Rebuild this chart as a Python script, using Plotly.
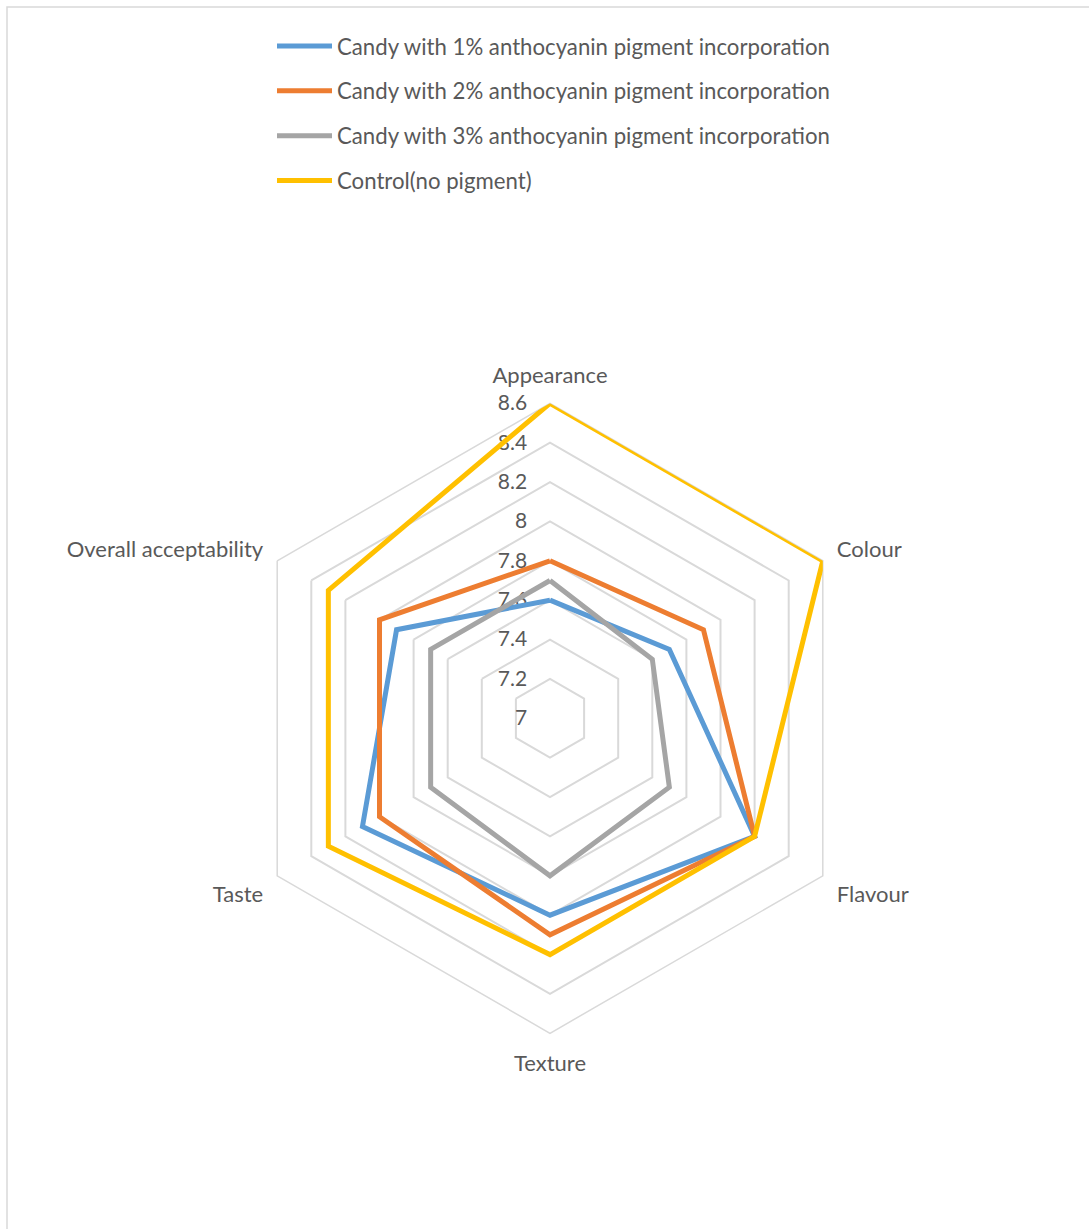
import plotly.graph_objects as go

# Sensory attributes scored on the hedonic scale (spokes of the radar)
criteria = ["Appearance", "Colour", "Flavour", "Texture", "Taste", "Overall acceptability"]

series_names = [
    "Candy with 1% anthocyanin pigment incorporation",
    "Candy with 2% anthocyanin pigment incorporation",
    "Candy with 3% anthocyanin pigment incorporation",
    "Control(no pigment)",
]

# Mean sensory scores per attribute
candy_1pct = [7.6, 7.7, 8.2, 8.0, 8.1, 7.9]
candy_2pct = [7.8, 7.9, 8.2, 8.1, 8.0, 8.0]
candy_3pct = [7.7, 7.6, 7.7, 7.8, 7.7, 7.7]
control = [8.6, 8.6, 8.2, 8.2, 8.3, 8.3]

radial_tickvals = [7.0, 7.2, 7.4, 7.6, 7.8, 8.0, 8.2, 8.4, 8.6]
radial_ticktext = ["7", "7.2", "7.4", "7.6", "7.8", "8", "8.2", "8.4", "8.6"]

series_values = [candy_1pct, candy_2pct, candy_3pct, control]
series_colors = ["#5B9BD5", "#ED7D31", "#A5A5A5", "#FFC000"]

FONT = "Lato"
TEXT_COLOR = "#595959"
GRID_COLOR = "#D9D9D9"

W, H = 1089, 1229

fig = go.Figure()
for i, (name, vals, col) in enumerate(zip(series_names, series_values, series_colors)):
    fig.add_trace(
        go.Scatterpolar(
            r=vals + vals[:1],
            theta=criteria + criteria[:1],
            mode="lines",
            name=name,
            legendgroup=f"g{i}",
            line=dict(color=col, width=5),
        )
    )

# polar area: centre (550, 718), outer ring radius 315 px
cx, cy, rad = 550, 718.3, 315
fig.update_layout(
    width=W,
    height=H,
    margin=dict(l=0, r=0, t=0, b=0),
    paper_bgcolor="white",
    plot_bgcolor="white",
    font=dict(family=FONT, size=22, color=TEXT_COLOR),
    polar=dict(
        domain=dict(
            x=[(cx - rad) / W, (cx + rad) / W],
            y=[1 - (cy + rad) / H, 1 - (cy - rad) / H],
        ),
        gridshape="linear",
        bgcolor="white",
        angularaxis=dict(
            rotation=90,
            direction="clockwise",
            showgrid=False,
            showline=True,
            linecolor=GRID_COLOR,
            linewidth=1.5,
            ticks="outside",
            ticklen=11,
            tickcolor="rgba(0,0,0,0)",
            tickfont=dict(family=FONT, size=22, color=TEXT_COLOR),
            layer="below traces",
        ),
        radialaxis=dict(
            range=[7, 8.6],
            tickvals=radial_tickvals,
            ticktext=radial_ticktext,
            angle=90,
            side="counterclockwise",
            showline=False,
            showgrid=True,
            gridcolor=GRID_COLOR,
            gridwidth=1.5,
            ticks="outside",
            ticklen=15,
            tickcolor="rgba(0,0,0,0)",
            tickangle=90,
            tickfont=dict(family=FONT, size=21, color=TEXT_COLOR),
            layer="below traces",
        ),
    ),
    legend=dict(
        x=272 / W,
        y=1 - 25 / H,
        xanchor="left",
        yanchor="top",
        bgcolor="rgba(0,0,0,0)",
        font=dict(family=FONT, size=22.2, color=TEXT_COLOR),
        itemwidth=55,
        tracegroupgap=13,
    ),
    shapes=[
        dict(
            type="rect",
            xref="paper",
            yref="paper",
            x0=7 / W,
            x1=1.02,
            y0=-0.02,
            y1=1 - 7 / H,
            line=dict(color=GRID_COLOR, width=1.5),
            fillcolor="rgba(0,0,0,0)",
            layer="below",
        )
    ],
)

fig.write_html("out.html")
